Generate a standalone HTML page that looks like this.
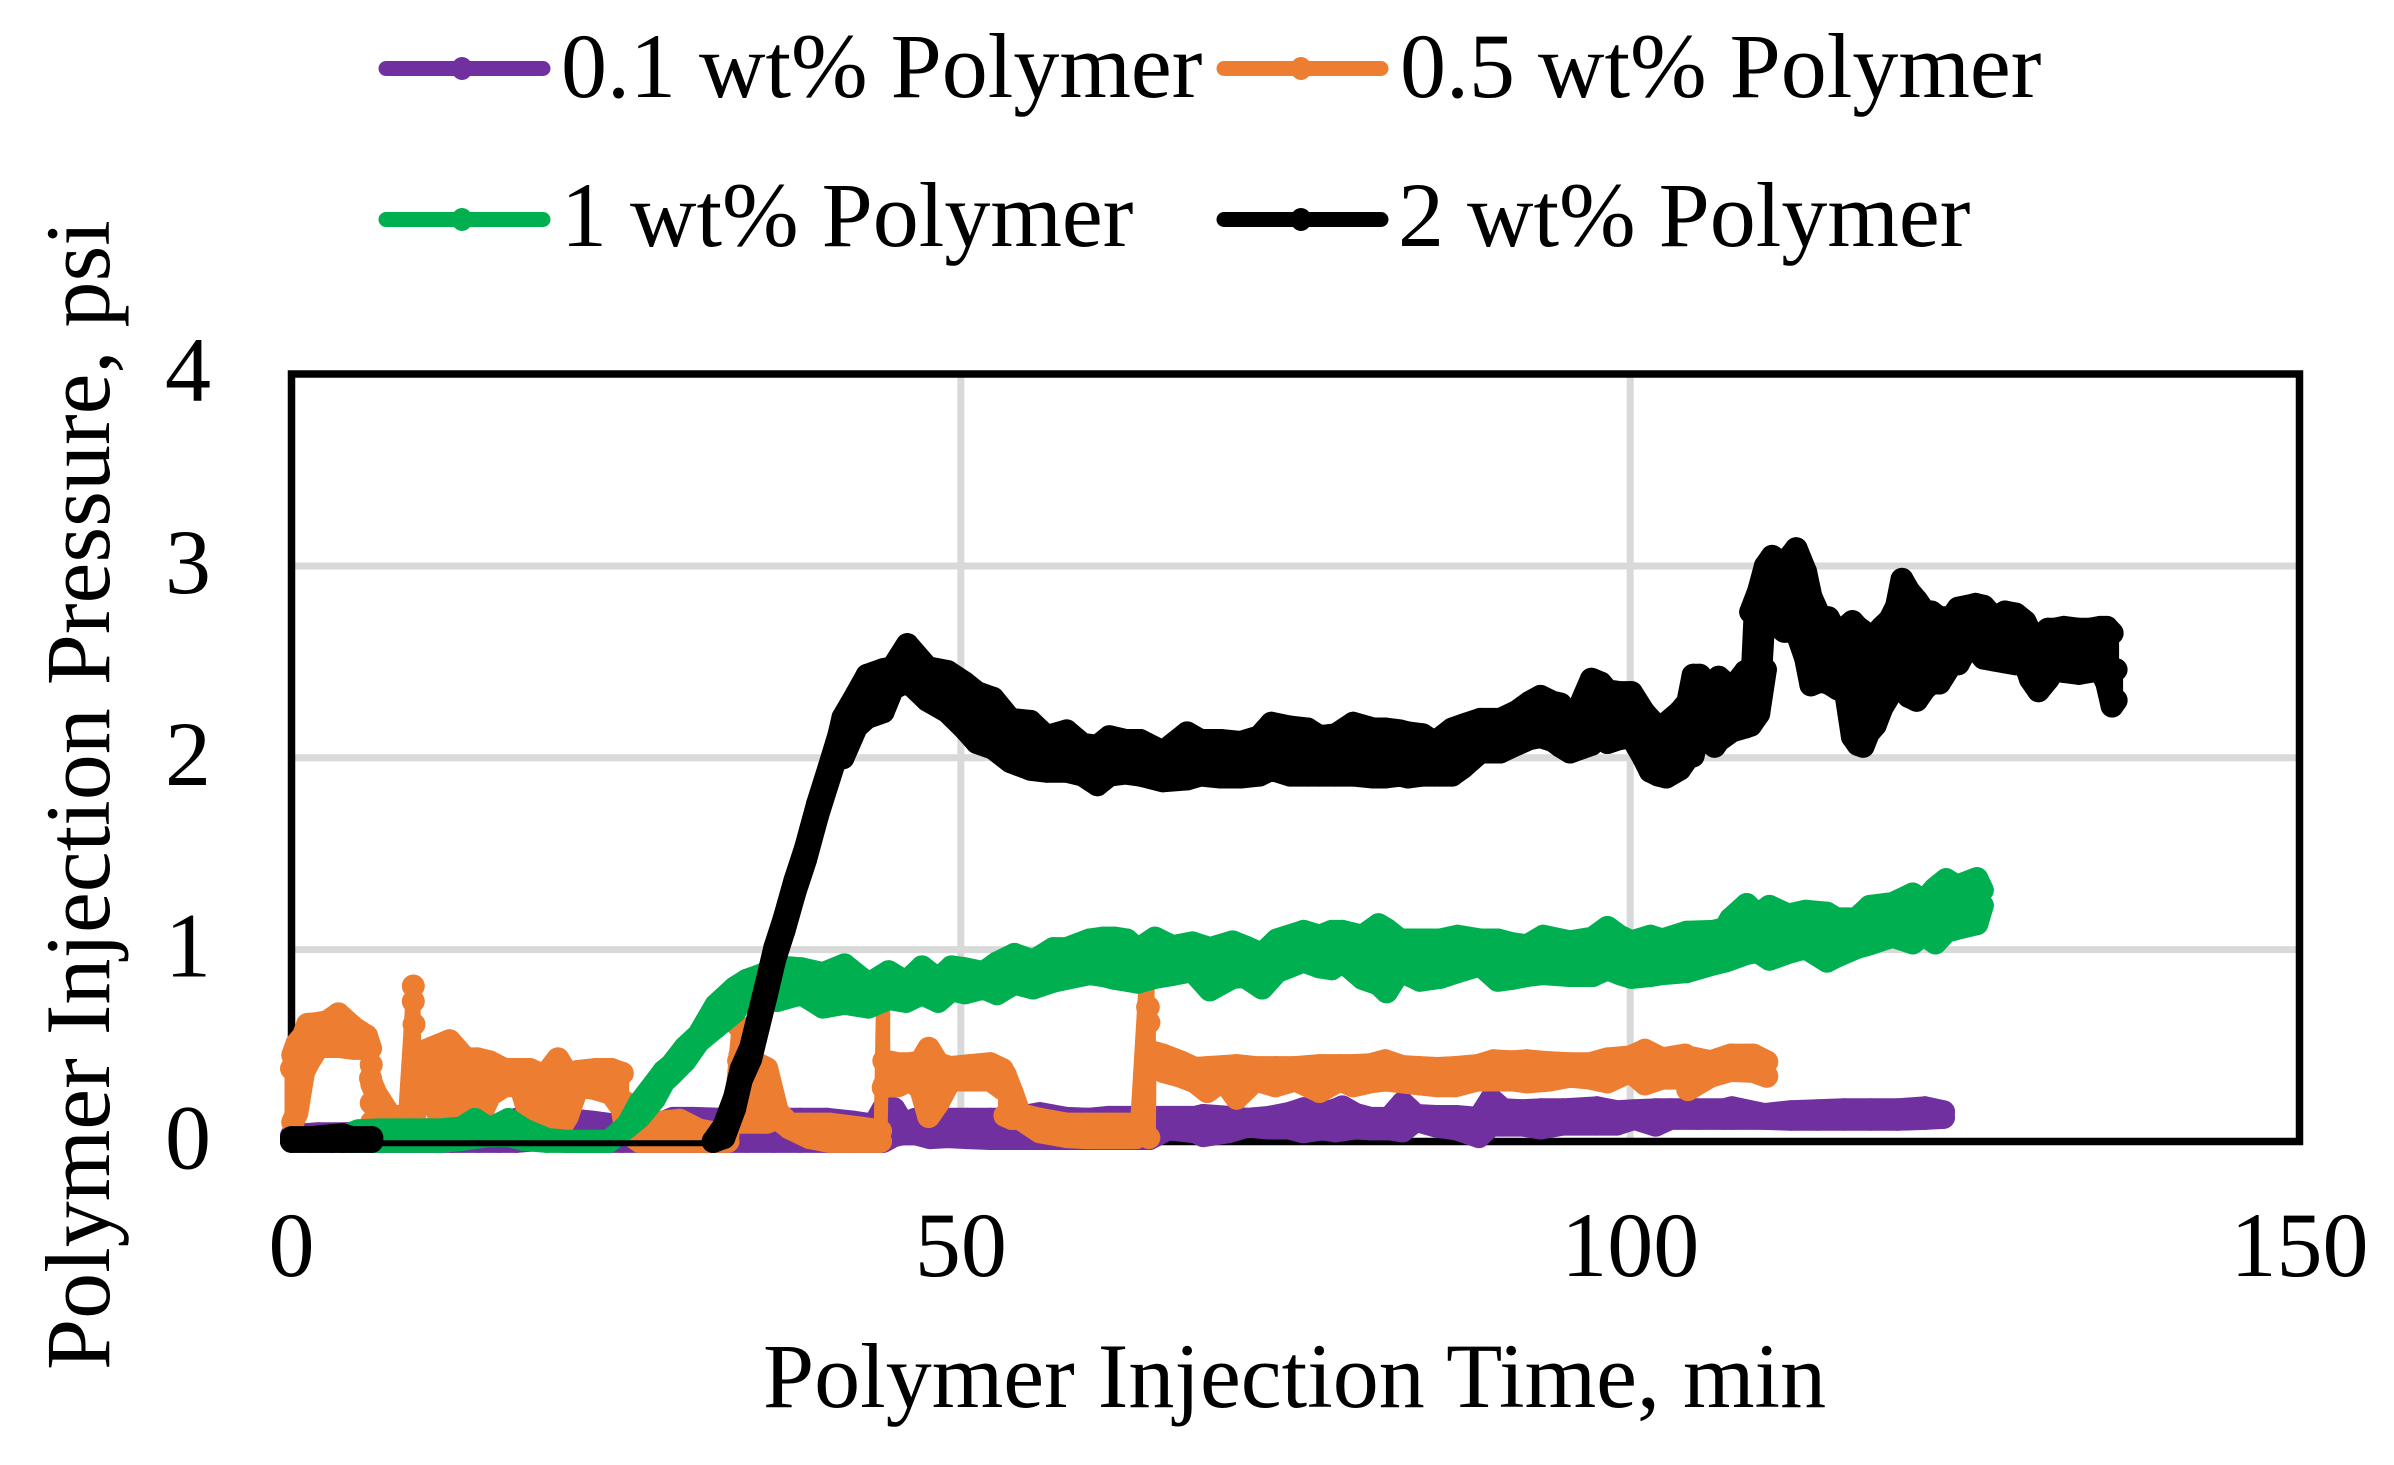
<!DOCTYPE html>
<html lang="en">
<head>
<meta charset="utf-8">
<title>Polymer Injection Pressure vs Time</title>
<style>
html,body{margin:0;padding:0;background:#fff;width:2394px;height:1465px;overflow:hidden}
svg{display:block}
text{font-family:"Liberation Serif",serif;font-size:92px;fill:#000}
</style>
</head>
<body>
<svg id="chart" xmlns="http://www.w3.org/2000/svg" width="2394" height="1465" viewBox="0 0 2394 1465">
  <rect x="0" y="0" width="2394" height="1465" fill="#fff"/>
  <g id="grid"></g>
  <rect x="291.5" y="374" width="2008" height="767.5" fill="none" stroke="#000" stroke-width="7.5"/>
  <g id="series"></g>
  <g id="ticks"></g>
  <text x="763" y="1407">Polymer Injection Time, min</text>
  <text transform="translate(109,1370) rotate(-90)" x="0" y="0">Polymer Injection Pressure, psi</text>

  <g>
    <g>
      <line x1="386" y1="68.5" x2="543" y2="68.5" stroke="#7030a0" stroke-width="15" stroke-linecap="round"/>
      <ellipse cx="462" cy="68.5" rx="10.5" ry="11.5" fill="#7030a0"/>
      <text x="561" y="97">0.1 wt% Polymer</text>
    </g>
    <g>
      <line x1="1224" y1="68.5" x2="1381" y2="68.5" stroke="#ed7d31" stroke-width="15" stroke-linecap="round"/>
      <ellipse cx="1301" cy="68.5" rx="10.5" ry="11.5" fill="#ed7d31"/>
      <text x="1400" y="97">0.5 wt% Polymer</text>
    </g>
    <g>
      <line x1="386" y1="219.5" x2="543" y2="219.5" stroke="#00b050" stroke-width="15" stroke-linecap="round"/>
      <ellipse cx="462" cy="219.5" rx="10.5" ry="11.5" fill="#00b050"/>
      <text x="561" y="246">1 wt% Polymer</text>
    </g>
    <g>
      <line x1="1224" y1="219.5" x2="1381" y2="219.5" stroke="#000" stroke-width="15" stroke-linecap="round"/>
      <ellipse cx="1301" cy="219.5" rx="10.5" ry="11.5" fill="#000"/>
      <text x="1398" y="246">2 wt% Polymer</text>
    </g>
  </g>
</svg>
<script>
// Axis tick values
const xTicks = [0, 50, 100, 150];
const yTicks = [0, 1, 2, 3, 4];

// 0.1 wt% readings: minute, fluctuation high, fluctuation low
const purpleTime = [0,2,4,6,8,10,12,14,15.5,16.8,18.5,20.5,22.5,24.7,26,28.5,30,32,34,36,38,40,42,43.5,44.2,45,45.7,46.6,47.7,49,50.5,52.2,53.5,55.9,57.9,59.5,61,63,64.1,65.5,67.5,68.1,70,71.4,73,74.5,75.6,77,78,78.5,79.5,80.6,82,83,84,85.5,87,88.7,89.6,90.5,92,93.3,95,97.5,99,100.3,101.9,103,105,107,107.6,110,112,114,116,118,120,122,123.4];
const purpleHigh = [0.03,0.04,0.04,0.05,0.05,0.06,0.07,0.08,0.08,0.115,0.1,0.115,0.1,0.08,0.05,0.12,0.12,0.115,0.115,0.115,0.115,0.115,0.1,0.085,0.17,0.17,0.09,0.115,0.115,0.115,0.115,0.115,0.115,0.145,0.12,0.115,0.125,0.125,0.125,0.125,0.125,0.135,0.125,0.115,0.125,0.145,0.17,0.145,0.165,0.18,0.14,0.12,0.12,0.2,0.135,0.13,0.13,0.12,0.22,0.165,0.16,0.165,0.165,0.175,0.155,0.16,0.165,0.165,0.165,0.165,0.175,0.14,0.155,0.16,0.165,0.165,0.165,0.175,0.155];
const purpleLow = [0,0,0,0,0,0,0,0,0,0,0.01,0,0,0,0,0,0,0,0,0,0,0,0,0,0,0.03,0.04,0.04,0.02,0.025,0.02,0.015,0.015,0.015,0.015,0.015,0.015,0.015,0.015,0.065,0.05,0.03,0.05,0.08,0.07,0.07,0.05,0.065,0.055,0.06,0.07,0.065,0.065,0.055,0.11,0.08,0.065,0.025,0.085,0.085,0.085,0.07,0.09,0.09,0.09,0.12,0.085,0.12,0.12,0.12,0.12,0.12,0.115,0.115,0.115,0.115,0.115,0.12,0.125];

// 0.5 wt% readings
const orangeTime = [0,0.1,0.4,0.9,1.2,2,2.7,3.5,4.7,5.6,5.9,5.95,6,6.3,7.4,8.4,9.1,9.15,9.2,9.25,9.9,10.6,11.8,13,13.9,14.8,15.9,17.1,17.8,18.9,19.9,20.6,21.4,22.7,23.9,24.7,25,26,27.5,29,30.4,32.6,33.4,33.5,35.5,36.3,37.2,38.7,40.2,42.5,44,44.2,44.25,45.3,46.2,47,47.6,48.3,49.2,50.7,52.2,53.1,53.3,53.8,54.4,55.9,57.9,59.4,61.1,63.1,63.95,64,64.05,64.1,65.1,66.4,67.5,68.4,69.6,70.6,72,73.5,75,76.8,78.3,79.3,80.6,81.7,83,84.3,85.6,86.9,88.6,89.8,91.2,92.3,94,95.5,97,98.3,100,101.1,102.4,104.1,104.3,106,107.5,109.2,110.2];
const orangeHigh = [0.38,0.45,0.51,0.55,0.61,0.615,0.625,0.665,0.59,0.55,0.485,0.4,0.3,0.25,0.13,0.13,0.81,0.61,0.42,0.3,0.47,0.49,0.525,0.43,0.43,0.415,0.375,0.375,0.375,0.34,0.43,0.35,0.365,0.375,0.375,0.355,0.2,0.05,0.1,0.11,0.06,0.03,0.6,0.45,0.38,0.155,0.09,0.09,0.09,0.07,0.055,0.8,0.42,0.405,0.405,0.415,0.485,0.405,0.385,0.395,0.405,0.375,0.35,0.26,0.14,0.115,0.09,0.09,0.09,0.09,1,0.7,0.62,0.47,0.45,0.415,0.38,0.385,0.39,0.395,0.385,0.385,0.385,0.395,0.395,0.395,0.4,0.42,0.39,0.385,0.38,0.385,0.395,0.42,0.415,0.42,0.41,0.405,0.405,0.43,0.44,0.475,0.43,0.45,0.44,0.415,0.45,0.45,0.415];
const orangeLow = [0,0.1,0.15,0.36,0.405,0.495,0.495,0.495,0.485,0.485,0.33,0.2,0.1,0.05,0.05,0.05,0.73,0.42,0.13,0.05,0.39,0.19,0.05,0.03,0.1,0.24,0.29,0.29,0.13,0.13,0.05,0.13,0.29,0.275,0.25,0.17,0.05,0,0,0,0,0,0.42,0.1,0.1,0.12,0.07,0.02,0,0,0,0.28,0.29,0.29,0.32,0.275,0.13,0.2,0.32,0.32,0.32,0.275,0.135,0.12,0.12,0.05,0.025,0.02,0.02,0.02,0.7,0.62,0.02,0.415,0.365,0.34,0.31,0.26,0.32,0.225,0.32,0.29,0.32,0.26,0.32,0.29,0.31,0.32,0.31,0.3,0.29,0.29,0.32,0.32,0.32,0.31,0.32,0.34,0.33,0.31,0.365,0.3,0.33,0.33,0.27,0.34,0.37,0.365,0.34];

// 1 wt% readings
const greenTime = [4.1,5,6.6,8.9,11.1,12.7,13.7,14.8,16.2,17.4,19.1,20.8,22.3,23.7,25.1,26,27.1,27.8,28.4,29.4,30.4,31.7,33.1,34,35.2,36.3,38.1,39.7,41.3,43.1,44.6,45.9,47.1,48.3,49.3,50.3,51.7,52.7,54,55.4,56.9,57.9,59.6,60.6,61.5,62.4,63.2,64.5,65.8,67.3,68.6,70.3,71.2,72.5,73.6,75.6,76.8,77.7,78.5,80,81.2,81.8,82.8,84.3,85.8,87.1,88.8,90.1,91.2,92.3,93.5,95.5,97.2,98.3,99.2,100.1,101.5,102.4,104.2,106.2,107.1,107.5,108.7,109.5,110.4,111.8,113.1,114.7,115.4,116.9,117.9,119.6,121.1,121.9,122.8,123.6,124.4,125.9,126.3];
const greenHigh = [0.03,0.056,0.06,0.06,0.06,0.07,0.114,0.065,0.114,0.06,0.01,0,0,0,0.085,0.2,0.3,0.365,0.4,0.49,0.555,0.71,0.8,0.84,0.87,0.91,0.9,0.875,0.92,0.82,0.885,0.83,0.91,0.845,0.91,0.9,0.88,0.93,0.975,0.94,1.005,1.005,1.05,1.06,1.06,1.05,1,1.06,1.015,1.035,1.005,1.04,1.015,0.975,1.05,1.095,1.07,1.095,1.095,1.07,1.13,1.105,1.05,1.05,1.05,1.07,1.05,1.05,1.03,1.02,1.07,1.04,1.06,1.115,1.07,1.04,1.07,1.05,1.09,1.095,1.11,1.16,1.235,1.18,1.225,1.18,1.2,1.19,1.16,1.16,1.225,1.24,1.29,1.25,1.32,1.365,1.33,1.37,1.31];
const greenLow = [0,0,0,0,0,0.01,0.02,0.03,0.03,0.01,0,0,0,0,0.075,0.127,0.22,0.31,0.35,0.42,0.52,0.595,0.675,0.78,0.73,0.735,0.77,0.7,0.72,0.7,0.745,0.73,0.77,0.73,0.79,0.775,0.8,0.77,0.825,0.8,0.835,0.85,0.875,0.865,0.85,0.84,0.83,0.855,0.87,0.89,0.79,0.855,0.86,0.8,0.885,0.94,0.91,0.9,0.94,0.85,0.82,0.78,0.89,0.84,0.855,0.885,0.92,0.84,0.85,0.865,0.875,0.865,0.865,0.9,0.875,0.855,0.865,0.875,0.885,0.925,0.94,0.95,0.98,0.99,0.95,0.985,1.01,0.94,0.965,1.01,1.03,1.07,1.035,1.08,1.035,1.095,1.11,1.135,1.23];

// 2 wt% readings: initial cluster
const blackEarlyTime = [0,1.5,3,3.8,4.5,6];
const blackEarlyHigh = [0.02,0.02,0.03,0.035,0.02,0.02];
const blackEarlyLow = [0,0,0,0,0,0];

// 2 wt% readings: sparse baseline with no markers
const blackIdleTime = [6,12,18,24,31.5];
const blackIdlePressure = [-0.01,-0.01,-0.01,-0.01,-0.01];

// 2 wt% readings: main run
const blackTime = [31.5,32.3,33.1,33.6,34.3,34.9,35.5,36.1,36.8,37.6,38.4,39.3,40.2,40.9,41.2,42.2,43,44.2,44.9,46,47.5,49,50.3,51.2,52.4,53.7,55.2,56.4,57.9,59.1,60.2,61.1,62.3,63.4,65.1,66.9,67.9,69.4,70.9,72.3,73.2,74.6,75.9,76.8,78,79.3,80.8,81.7,82.8,83.4,84.5,85.4,86.7,87.5,88.8,90.3,91.5,92.5,93.3,94.2,94.8,95.5,96.3,97.1,97.8,98.3,99.2,100.1,101,101.5,102.1,102.7,103.7,104.3,104.7,105.2,105.7,106.3,106.6,107.6,108.6,109,109.6,110.1,110.6,111.5,112.4,113.1,113.5,114.2,114.8,115.5,116.1,116.6,117,117.4,117.8,118.3,118.8,119.4,119.9,120.3,120.8,121.4,122,122.5,123.1,124,124.5,125.2,125.8,126.4,127.2,128,128.8,129.5,129.9,130.5,131.2,131.7,132.4,133.5,134.3,135.1,135.6,136,136.3];
const blackHigh = [0,0.08,0.23,0.38,0.49,0.66,0.83,1.01,1.16,1.36,1.53,1.76,1.96,2.12,2.21,2.33,2.43,2.46,2.47,2.59,2.47,2.45,2.39,2.34,2.31,2.2,2.19,2.11,2.14,2.07,2.06,2.11,2.09,2.09,2.03,2.13,2.09,2.09,2.08,2.11,2.18,2.16,2.15,2.11,2.12,2.18,2.15,2.15,2.14,2.13,2.12,2.08,2.15,2.17,2.2,2.2,2.24,2.29,2.32,2.29,2.28,2.2,2.28,2.41,2.39,2.35,2.34,2.34,2.24,2.2,2.16,2.18,2.24,2.29,2.43,2.43,2.39,2.37,2.42,2.36,2.45,2.76,2.87,3,3.05,3.01,3.09,2.97,2.84,2.73,2.73,2.64,2.68,2.71,2.68,2.66,2.5,2.64,2.68,2.72,2.79,2.93,2.87,2.82,2.76,2.76,2.73,2.73,2.78,2.79,2.8,2.79,2.73,2.76,2.75,2.71,2.65,2.63,2.67,2.67,2.68,2.67,2.67,2.68,2.68,2.65,2.46];
const blackLow = [0,0.02,0.17,0.32,0.43,0.6,0.77,0.95,1.1,1.3,1.47,1.7,1.9,2.05,2,2.16,2.21,2.24,2.36,2.4,2.3,2.24,2.15,2.08,2.05,1.98,1.94,1.93,1.93,1.91,1.86,1.91,1.92,1.91,1.88,1.89,1.91,1.9,1.9,1.91,1.94,1.91,1.91,1.91,1.91,1.91,1.9,1.9,1.91,1.9,1.91,1.91,1.91,1.95,2.03,2.03,2.07,2.1,2.11,2.09,2.06,2.03,2.05,2.07,2.13,2.08,2.1,2.11,2,1.93,1.91,1.9,1.94,2,2.01,2.15,2.11,2.06,2.09,2.14,2.16,2.17,2.23,2.46,2.71,2.66,2.66,2.52,2.38,2.4,2.39,2.36,2.34,2.11,2.07,2.06,2.13,2.17,2.26,2.33,2.4,2.43,2.32,2.3,2.36,2.39,2.39,2.49,2.49,2.58,2.57,2.52,2.51,2.5,2.49,2.49,2.41,2.35,2.41,2.46,2.45,2.44,2.45,2.46,2.39,2.27,2.3];

const SVG_NS = 'http://www.w3.org/2000/svg';
const X_ORIGIN = 291.5, X_PER_MIN = 13.387;
const Y_ORIGIN = 1141.4, Y_PER_PSI = 191.8;
function xScale(t) { return X_ORIGIN + t * X_PER_MIN; }
function yScale(v) { return Y_ORIGIN - v * Y_PER_PSI; }

function make(tag, attrs) {
  const el = document.createElementNS(SVG_NS, tag);
  for (const k in attrs) el.setAttribute(k, attrs[k]);
  return el;
}

const gridLayer = document.getElementById('grid');
const tickLayer = document.getElementById('ticks');
const seriesLayer = document.getElementById('series');

xTicks.forEach(function (t) {
  if (t > 0 && t < xTicks[xTicks.length - 1]) {
    const g = make('line', { x1: xScale(t), x2: xScale(t), y1: yScale(yTicks[0]), y2: yScale(yTicks[yTicks.length - 1]), stroke: '#d9d9d9', 'stroke-width': 7 });
    
    
    gridLayer.appendChild(g);
  }
  const label = make('text', { x: xScale(t), y: 1276, 'text-anchor': 'middle' });
  label.textContent = String(t);
  
  
  tickLayer.appendChild(label);
});

yTicks.forEach(function (v) {
  if (v > 0 && v < yTicks[yTicks.length - 1]) {
    const g = make('line', { x1: xScale(xTicks[0]), x2: xScale(xTicks[xTicks.length - 1]), y1: yScale(v), y2: yScale(v), stroke: '#d9d9d9', 'stroke-width': 7 });
    
    
    gridLayer.appendChild(g);
  }
  const label = make('text', { x: 211, y: yScale(v) + 27, 'text-anchor': 'end' });
  label.textContent = String(v);
  
  
  tickLayer.appendChild(label);
});

// Outline a fluctuation edge with the marker-wide stroke, skipping steep spikes
// so that those stay as thin connector lines.
function edgePath(time, values) {
  let d = '';
  for (let i = 0; i + 1 < time.length; i++) {
    const dt = time[i + 1] - time[i];
    const slope = Math.abs(values[i + 1] - values[i]) / dt;
    if (dt > 0.25 && slope < 0.5) {
      d += 'M' + xScale(time[i]).toFixed(1) + ' ' + yScale(values[i]).toFixed(1) +
           'L' + xScale(time[i + 1]).toFixed(1) + ' ' + yScale(values[i + 1]).toFixed(1);
    }
  }
  return d;
}

function drawSeries(color, time, high, low) {
  const group = make('g', {});
  
  
  const upper = [], lower = [], zig = [];
  time.forEach(function (t, i) {
    const x = xScale(t).toFixed(1);
    const hy = yScale(high[i]).toFixed(1);
    const ly = yScale(low[i]).toFixed(1);
    upper.push(x + ',' + hy);
    lower.unshift(x + ',' + ly);
    zig.push(x + ',' + hy, x + ',' + ly);
  });
  const band = make('polygon', { points: upper.concat(lower).join(' '), fill: color });
  
  
  group.appendChild(band);
  const line = make('polyline', { points: zig.join(' '), fill: 'none', stroke: color, 'stroke-width': 14, 'stroke-linejoin': 'round', 'stroke-linecap': 'round' });
  
  
  group.appendChild(line);
  const topEdge = make('path', { d: edgePath(time, high), fill: 'none', stroke: color, 'stroke-width': 23, 'stroke-linecap': 'round' });
  
  
  group.appendChild(topEdge);
  const bottomEdge = make('path', { d: edgePath(time, low), fill: 'none', stroke: color, 'stroke-width': 23, 'stroke-linecap': 'round' });
  
  
  group.appendChild(bottomEdge);
  time.forEach(function (t, i) {
    [high[i], low[i]].forEach(function (v) {
      const dot = make('circle', { cx: xScale(t).toFixed(1), cy: yScale(v).toFixed(1), r: 11.5, fill: color });
      
      
      group.appendChild(dot);
    });
  });
  seriesLayer.appendChild(group);
}

drawSeries('#7030a0', purpleTime, purpleHigh, purpleLow);
drawSeries('#ed7d31', orangeTime, orangeHigh, orangeLow);
drawSeries('#00b050', greenTime, greenHigh, greenLow);
drawSeries('#000000', blackEarlyTime, blackEarlyHigh, blackEarlyLow);

const idle = make('polyline', {
  points: blackIdleTime.map(function (t, i) { return xScale(t).toFixed(1) + ',' + yScale(blackIdlePressure[i]).toFixed(1); }).join(' '),
  fill: 'none', stroke: '#000', 'stroke-width': 6
});


seriesLayer.appendChild(idle);

drawSeries('#000000', blackTime, blackHigh, blackLow);
</script>
</body>
</html>
